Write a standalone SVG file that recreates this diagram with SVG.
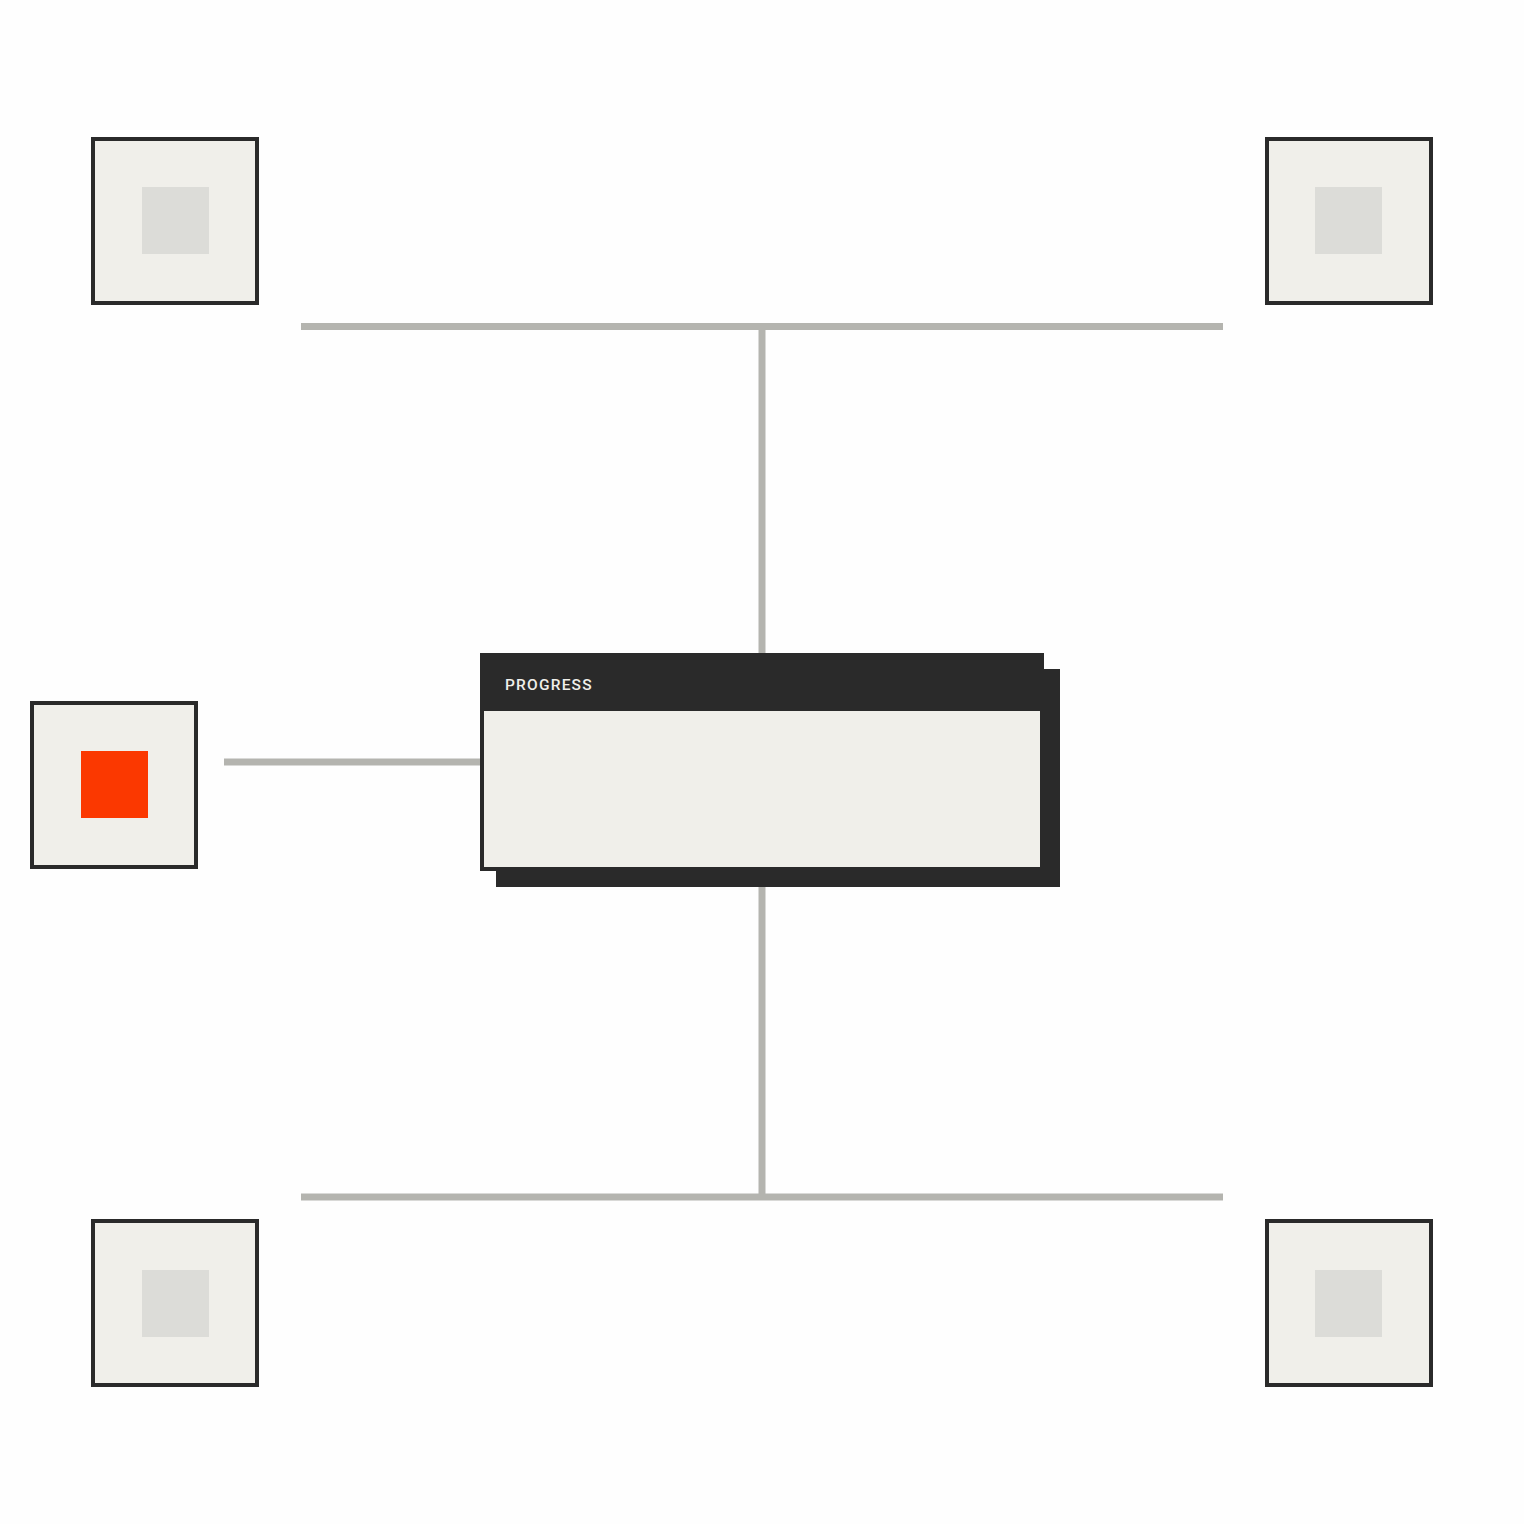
<svg xmlns="http://www.w3.org/2000/svg" width="1524" height="1524" viewBox="0 0 1524 1524">
<style>
.conn{stroke:#b4b4af;stroke-width:7;fill:none}
.box{fill:#f0efea;stroke:#2a2a2a;stroke-width:4}
.inner{fill:#dcdcd8}
.dark{fill:#2a2a2a}
.lbl{font-family:Roboto,"Liberation Sans",sans-serif;font-size:15.5px;font-weight:500;letter-spacing:1.2px;fill:#f0efea}
</style>
<rect width="1524" height="1524" fill="#fefefe"/>
<g id="connectors">
<line class="conn" x1="301" y1="326.5" x2="1223" y2="326.5"/>
<line class="conn" x1="762" y1="326" x2="762" y2="655"/>
<line class="conn" x1="762" y1="885" x2="762" y2="1197"/>
<line class="conn" x1="301" y1="1197" x2="1223" y2="1197"/>
<line class="conn" x1="224" y1="762" x2="482" y2="762"/>
</g>
<g id="node-tl"><rect class="box" x="93" y="139" width="164" height="164"/><rect class="inner" x="142" y="187" width="67" height="67"/></g>
<g id="node-tr"><rect class="box" x="1267" y="139" width="164" height="164"/><rect class="inner" x="1315" y="187" width="67" height="67"/></g>
<g id="node-bl"><rect class="box" x="93" y="1221" width="164" height="164"/><rect class="inner" x="142" y="1270" width="67" height="67"/></g>
<g id="node-br"><rect class="box" x="1267" y="1221" width="164" height="164"/><rect class="inner" x="1315" y="1270" width="67" height="67"/></g>
<g id="node-left"><rect class="box" x="32" y="703" width="164" height="164"/><rect x="81" y="751" width="67" height="67" fill="#fb3800"/></g>
<g id="node-progress">
<rect class="dark" x="496" y="669" width="564" height="218"/>
<rect class="dark" x="480" y="653" width="564" height="218"/>
<rect x="484" y="711" width="556" height="156" fill="#f0efea"/>
<text class="lbl" x="505" y="690">PROGRESS</text>
</g>
</svg>
